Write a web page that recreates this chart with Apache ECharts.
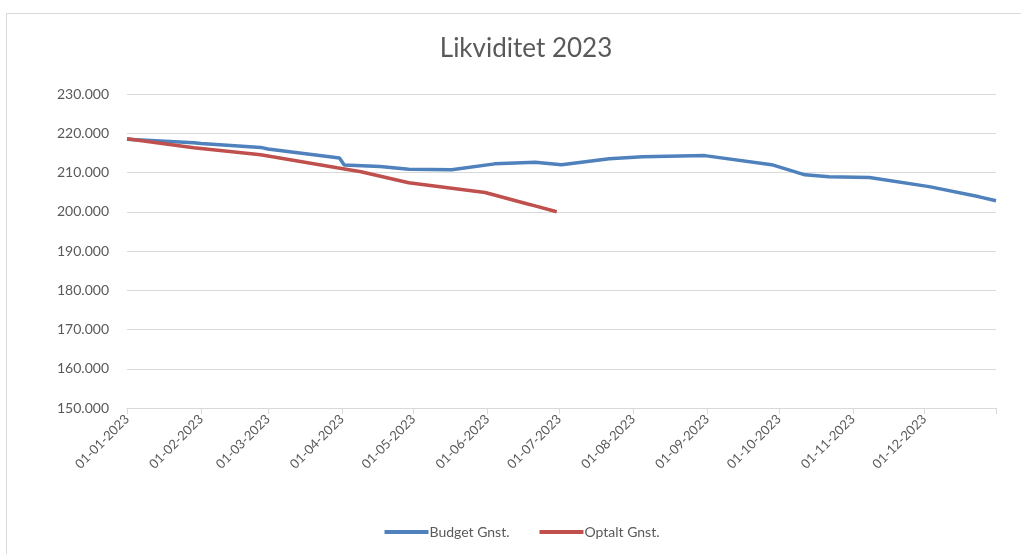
<!DOCTYPE html>
<html>
<head>
<meta charset="utf-8">
<script src="https://cdn.jsdelivr.net/npm/echarts@6/dist/echarts.min.js"></script>
<style>
  body { margin: 0; background: #fff; overflow: hidden; }
  #main {
    position: absolute;
    left: 6px;
    top: 13px;
    width: 1030px;
    height: 560px;
    border: 1px solid #d9d9d9;
  }
</style>
</head>
<body>
<div id="main"></div>
<script>
  var budgetDates = ['2023-01-01', '2023-01-29', '2023-02-01', '2023-02-26', '2023-03-01', '2023-03-31', '2023-04-02',
    '2023-04-17', '2023-04-29', '2023-05-17', '2023-06-04', '2023-06-21', '2023-07-02', '2023-07-22', '2023-08-05',
    '2023-08-31', '2023-09-28', '2023-10-12', '2023-10-22', '2023-11-08', '2023-12-03', '2023-12-24', '2023-12-31'];
  var budgetValues = [218500, 217600, 217400, 216400, 216000, 213700, 211900,
    211500, 210800, 210700, 212200, 212600, 212000, 213500, 214000,
    214300, 212000, 209400, 208900, 208700, 206400, 203800, 202800];

  var optaltDates = ['2023-01-01', '2023-01-29', '2023-02-26', '2023-03-30', '2023-04-09', '2023-04-29',
    '2023-05-31', '2023-06-19', '2023-06-30'];
  var optaltValues = [218600, 216300, 214500, 211200, 210200, 207400, 204900, 201800, 200000];

  var monthTicks = ['2023-01-01', '2023-02-01', '2023-03-01', '2023-04-01', '2023-05-01', '2023-06-01',
    '2023-07-01', '2023-08-01', '2023-09-01', '2023-10-01', '2023-11-01', '2023-12-01'];
  var axisEnd = '2023-12-31';

  function toTime(s) {
    var p = s.split('-');
    return new Date(+p[0], +p[1] - 1, +p[2]).getTime();
  }
  function pad(n) { return n < 10 ? '0' + n : '' + n; }
  function pairs(dates, values) {
    return dates.map(function (d, i) { return [toTime(d), values[i]]; });
  }

  var labelTicks = monthTicks.map(toTime);
  var tickTicks = labelTicks.concat([toTime(axisEnd)]);

  var font = 'Lato, "Liberation Sans", sans-serif';
  var myChart = echarts.init(document.getElementById('main'));

  var option = {
    animation: false,
    title: {
      text: 'Likviditet 2023',
      left: 514,
      top: 17,
      textAlign: 'center',
      textStyle: { fontFamily: font, fontSize: 26, fontWeight: 'normal', color: '#595959' }
    },
    grid: { left: 120, right: 41, top: 80, bottom: 166 },
    legend: {
      top: 506,
      left: 'center',
      icon: 'rect',
      itemWidth: 44,
      itemHeight: 4,
      itemGap: 30,
      data: ['Budget Gnst.', 'Optalt Gnst.'],
      textStyle: { fontFamily: font, fontSize: 14, color: '#595959', padding: [0, 0, 0, -4] }
    },
    xAxis: {
      type: 'value',
      min: toTime('2023-01-01'),
      max: toTime(axisEnd),
      axisLine: { onZero: false, lineStyle: { color: '#d9d9d9', width: 1 } },
      axisTick: { show: true, length: 6, customValues: tickTicks, lineStyle: { color: '#d9d9d9' } },
      splitLine: { show: false },
      axisLabel: {
        customValues: labelTicks,
        rotate: 45,
        margin: 9,
        fontFamily: font,
        fontSize: 13,
        color: '#595959',
        formatter: function (v) {
          var d = new Date(v);
          return pad(d.getDate()) + '-' + pad(d.getMonth() + 1) + '-' + d.getFullYear();
        }
      }
    },
    yAxis: {
      type: 'value',
      min: 150000,
      max: 230000,
      interval: 10000,
      axisLine: { show: false },
      axisTick: { show: false },
      splitLine: { lineStyle: { color: '#d9d9d9', width: 1 } },
      axisLabel: {
        margin: 18,
        fontFamily: font,
        fontSize: 14,
        color: '#595959',
        formatter: function (v) {
          return (v / 1000).toFixed(0) + '.000';
        }
      }
    },
    series: [
      {
        name: 'Budget Gnst.',
        type: 'line',
        symbol: 'none',
        color: '#4f81bd',
        lineStyle: { width: 3.5, color: '#4f81bd' },
        data: pairs(budgetDates, budgetValues)
      },
      {
        name: 'Optalt Gnst.',
        type: 'line',
        symbol: 'none',
        color: '#c0504d',
        lineStyle: { width: 3.5, color: '#c0504d' },
        data: pairs(optaltDates, optaltValues)
      }
    ]
  };
  myChart.setOption(option);
</script>
</body>
</html>
